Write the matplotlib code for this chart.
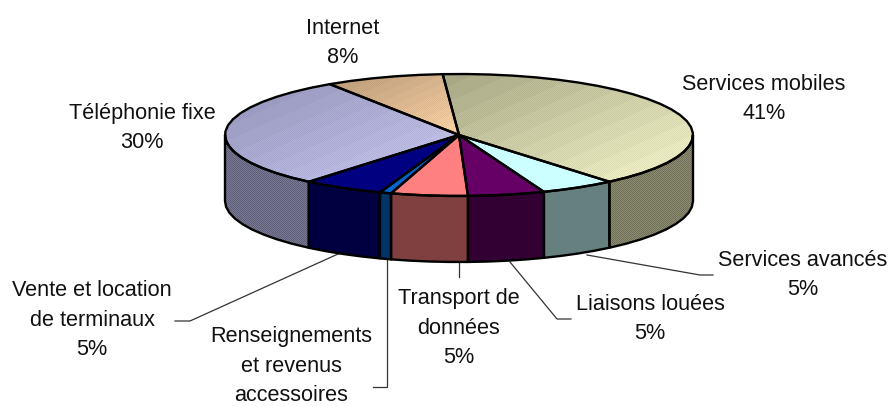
import numpy as np
import matplotlib
matplotlib.use("Agg")
import matplotlib.pyplot as plt
from matplotlib.patches import Polygon

categories = ["Services mobiles", "Services avancés", "Liaisons louées", "Transport de\ndonnées",
              "Renseignements\net revenus\naccessoires", "Vente et location\nde terminaux",
              "Téléphonie fixe", "Internet"]
shares = [40.0, 5.2, 5.3, 5.3, 0.8, 5.6, 29.6, 8.2]
percent_labels = ["41%", "5%", "5%", "5%", "", "5%", "30%", "8%"]
label_pos = [(764, 99), (803, 275), (650, 319), (459, 328), (291, 366), (92, 320), (142, 128), (343, 43)]
leaders = [None, [(587, 255), (700, 275), (713, 275)], [(510, 262), (557, 319), (571, 319)],
           [(459, 263), (459, 277)], [(387, 260), (387, 387), (373, 387)],
           [(338, 254), (190, 321), (175, 321)], None, None]
top_dark = ["#A8A886", "#CCFFFF", "#660066", "#FF8080", "#0066CC", "#000080", "#9494BA", "#B99A78"]
top_light = ["#FAFACF", "#CCFFFF", "#660066", "#FF8080", "#0066CC", "#000080", "#CCCCF5", "#FFD6A8"]
side_col = ["#7E7E66", "#668080", "#330033", "#804040", "#003366", "#000040", "#6C6C86", "#8A6A50"]

CX, CY, RX, RY, DEPTH, START = 459, 135, 234, 61, 66, 94
W, H = 893, 407
fig = plt.figure(figsize=(W / 100, H / 100), dpi=100)
ax = fig.add_axes([0, 0, 1, 1])
ax.set_xlim(0, W)
ax.set_ylim(H, 0)
ax.axis("off")
plt.rcParams["font.family"] = ["Liberation Sans", "DejaVu Sans"]


def arc(a0, a1, dy=0, step=6):
    n = max(2, int(abs(a1 - a0) / step) + 2)
    t = np.radians(np.linspace(a0, a1, n))
    return np.column_stack([CX + RX * np.cos(t), CY - RY * np.sin(t) + dy])


def hex2rgb(c):
    return np.array(matplotlib.colors.to_rgb(c))


def shaded(poly, dark, light, dither=0.0, bands=14):
    x0, y0 = poly.min(axis=0)
    x1, y1 = poly.max(axis=0)
    xi, yi = np.meshgrid(np.arange(int(x0) - 1, int(x1) + 2), np.arange(int(y0) - 1, int(y1) + 2))
    g = (xi - x0) * 0.45 + (yi - y0)
    g = (g - g.min()) / max(g.max() - g.min(), 1)
    g = np.floor(g * bands) / bands
    img = hex2rgb(dark)[None, None] * (1 - g[..., None]) + hex2rgb(light)[None, None] * g[..., None]
    if dither:
        img = img * (1 + dither * (((xi + yi) % 2)[..., None] * 2 - 1))
    im = ax.imshow(np.clip(img, 0, 1), extent=(xi.min(), xi.max() + 1, yi.max() + 1, yi.min()),
                   interpolation="nearest", aspect="auto", zorder=2)
    patch = Polygon(poly, closed=True, facecolor="none", edgecolor="black", lw=1.7, zorder=3, joinstyle="round")
    ax.add_patch(patch)
    im.set_clip_path(patch)


fractions = np.array(shares) / sum(shares) * 360
ends = START - np.cumsum(fractions)
starts = ends + fractions

for s, e, col in zip(starts, ends, side_col):
    for lo, hi in [(-180, 0), (-540, -360)]:
        a0, a1 = min(s, hi), max(e, lo)
        if a0 > a1:
            poly = np.vstack([arc(a0, a1), arc(a1, a0, DEPTH)])
            textured = col in (side_col[0], side_col[6])
            shaded(poly, col, col, dither=0.12 if textured else 0)

for s, e, d, l in zip(starts, ends, top_dark, top_light):
    poly = np.vstack([[(CX, CY)], arc(s, e)])
    shaded(poly, d, l, dither=0.02 if d != l else 0)

for lab, pct, (x, y), seg in zip(categories, percent_labels, label_pos, leaders):
    txt = lab + ("\n" + pct if pct else "")
    ax.text(x, y, txt, ha="center", va="center", fontsize=15.6, color="#111111",
            linespacing=1.55, zorder=5)
    if seg:
        pts = np.array(seg)
        ax.plot(pts[:, 0], pts[:, 1], color="#333333", lw=0.9, zorder=1)

ax.set_xlim(0, W)
ax.set_ylim(H, 0)
fig.savefig("out.png", dpi=100)
